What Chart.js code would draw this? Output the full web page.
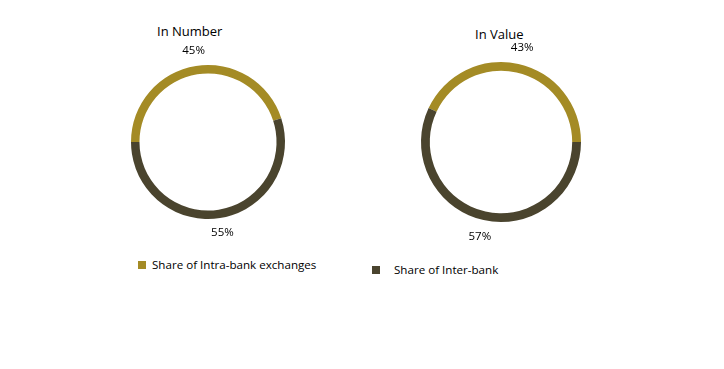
<!DOCTYPE html>
<html>
<head>
<meta charset="utf-8">
<script src="https://cdn.jsdelivr.net/npm/chart.js@4"></script>
<style>
  body { margin: 0; background: #fff; width: 724px; height: 369px; position: relative; overflow: hidden;
         font-family: "Open Sans", "Liberation Sans", sans-serif; color: #000; }
  .box { position: absolute; width: 200px; height: 200px; }
  .title { position: absolute; font-size: 13px; white-space: nowrap; }
  .leg { position: absolute; font-size: 11.6px; white-space: nowrap; }
  .leg span { display: inline-block; width: 8px; height: 8px; margin-right: 6px; vertical-align: 0; }
</style>
</head>
<body>
<div class="title" style="left:157px; top:22px;">In Number</div>
<div class="title" style="left:475px; top:25px;">In Value</div>
<div class="box" style="left:108px; top:42px;"><canvas id="numberChart"></canvas></div>
<div class="box" style="left:401px; top:42px;"><canvas id="valueChart"></canvas></div>
<div class="leg" style="left:138px; top:257px;"><span style="background:#a48b25"></span>Share of Intra-bank exchanges</div>
<div class="leg" style="left:372px; top:262px;"><span style="background:#4a442e; margin-right:14px"></span>Share of Inter-bank</div>
<script>
// Data
const categories = ["Share of Intra-bank exchanges", "Share of Inter-bank"];
const numberShares = [45, 55];
const valueShares = [43, 57];
const colors = ["#a48b25", "#4a442e"];

// percentage labels just outside the ring
const outsideLabels = {
  id: "outsideLabels",
  afterDatasetsDraw(chart, args, opts) {
    const ctx = chart.ctx;
    const data = chart.data.datasets[0].data;
    ctx.save();
    ctx.font = '11.5px "Open Sans", sans-serif';
    ctx.fillStyle = "#000";
    ctx.textAlign = "center";
    ctx.textBaseline = "middle";
    chart.getDatasetMeta(0).data.forEach((arc, i) => {
      const mid = (arc.startAngle + arc.endAngle) / 2;
      const r = arc.outerRadius + opts.gap;
      ctx.fillText(data[i] + "%", arc.x + Math.cos(mid) * r, arc.y + Math.sin(mid) * r);
    });
    ctx.restore();
  },
};

function makeDonut(id, values, rotation, pad, gap) {
  new Chart(document.getElementById(id), {
    type: "doughnut",
    data: {
      labels: categories,
      datasets: [{ data: values, backgroundColor: colors, borderWidth: 0 }],
    },
    options: {
      responsive: true,
      maintainAspectRatio: false,
      animation: false,
      rotation: rotation,
      cutout: "89%",
      layout: { padding: pad },
      plugins: {
        legend: { display: false },
        tooltip: { enabled: false },
        outsideLabels: { gap: gap },
      },
    },
    plugins: [outsideLabels],
  });
}

makeDonut("numberChart", numberShares, -90, 23, 15);
makeDonut("valueChart", valueShares, -64.8, 20, 17);
</script>
</body>
</html>
